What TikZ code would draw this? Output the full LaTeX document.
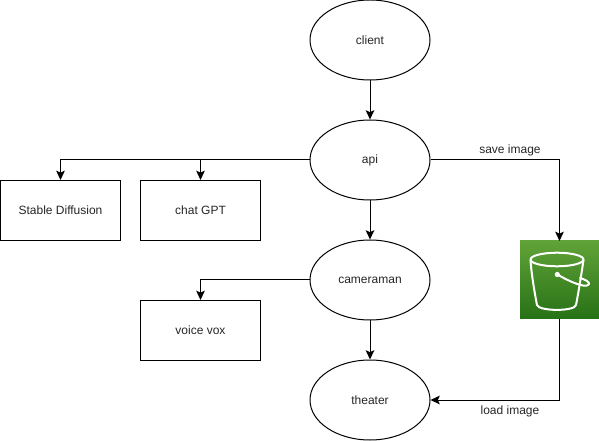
\documentclass[tikz,border=0pt]{standalone}
\usepackage{fontspec}
\setmainfont{Liberation Sans}
\usetikzlibrary{shapes.geometric,arrows.meta}
\definecolor{bucktop}{HTML}{60A337}
\definecolor{buckbot}{HTML}{277116}
\begin{document}
\begin{tikzpicture}[x=0.75pt,y=-0.75pt,
  line width=0.75pt,
  every node/.style={font=\fontsize{9}{11}\selectfont,text=black!85},
  oval/.style={draw,ellipse,fill=white,minimum width=90pt,minimum height=60pt,inner sep=0pt},
  boxn/.style={draw,rectangle,fill=white,minimum width=90pt,minimum height=45pt,inner sep=0pt},
  conn/.style={draw,-{Stealth[length=7pt,width=6.5pt,inset=1.5pt]}},
  lab/.style={inner sep=0pt}]
\useasboundingbox (0,0) rectangle (599,441);
\node[oval] (client) at (370,40) {client};
\node[oval] (api) at (370,160) {api};
\node[oval] (cam) at (370,280) {cameraman};
\node[oval] (theater) at (370,400) {theater};
\node[boxn] (sd) at (60.5,210.5) {Stable Diffusion};
\node[boxn] (gpt) at (200.5,210.5) {chat GPT};
\node[boxn] (vox) at (200.5,330.5) {voice vox};
\node[minimum width=59.25pt,minimum height=58.5pt,inner sep=0pt,outer sep=0pt,top color=bucktop,bottom color=buckbot,draw=none] (s3) at (559.5,280) {};
\begin{scope}[draw=white,line width=1.5pt,line join=round,line cap=round]
  \draw (557,259.5) ellipse [x radius=26.5,y radius=6.8];
  \draw (530.5,260) .. controls (531,270) and (534,290) .. (537,305)
        .. controls (539,311.5) and (575,311.5) .. (576,305)
        .. controls (579,290) and (582,270) .. (583.5,260);
  \draw (557.5,274.5) .. controls (565,279) and (575,284) .. (583,285.5)
        .. controls (589.5,286.5) and (590.5,283) .. (587,281)
        .. controls (585,279.5) and (582,278.5) .. (580,278);
  \fill[white] (557.3,274.5) circle [radius=2.6];
\end{scope}
\draw[conn] (client) -- (api);
\draw[conn] (api) -- (cam);
\draw[conn] (cam) -- (theater);
\draw[conn] (api.west) -| (sd.north);
\draw[conn] (api.west) -| (gpt.north);
\draw[conn] (cam.west) -| (vox.north);
\draw[conn] (api.east) -| (s3.north);
\draw[conn] (s3.south) |- (theater.east);
\node[lab] (save) at (510,150) {save image};
\node[lab] (load) at (510,411) {load image};
\end{tikzpicture}
\end{document}
